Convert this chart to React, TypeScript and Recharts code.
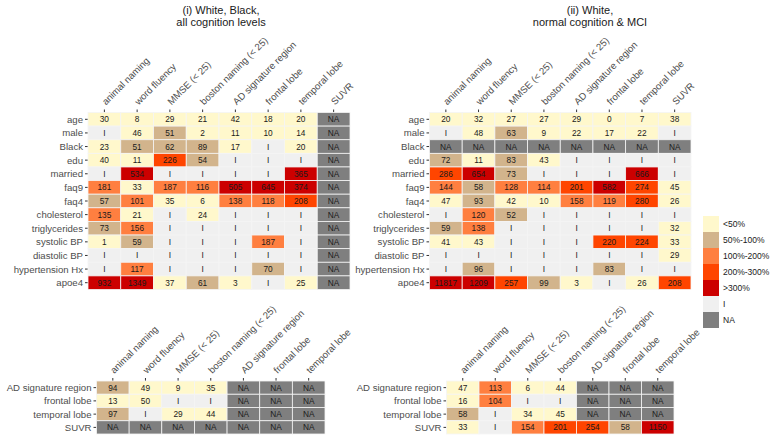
import React from "react";
import {ScatterChart, Scatter, XAxis, YAxis} from "recharts";

const I = "I";
const NA = "NA";
type Val = number | "I" | "NA";

const topCols = ["animal naming", "word fluency", "MMSE (< 25)", "boston naming (< 25)", "AD signature region", "frontal lobe", "temporal lobe", "SUVR"];
const topRows = ["age", "male", "Black", "edu", "married", "faq9", "faq4", "cholesterol", "triglycerides", "systolic BP", "diastolic BP", "hypertension Hx", "apoe4"];
const bottomCols = ["animal naming", "word fluency", "MMSE (< 25)", "boston naming (< 25)", "AD signature region", "frontal lobe", "temporal lobe"];
const bottomRows = ["AD signature region", "frontal lobe", "temporal lobe", "SUVR"];

// (i) White, Black, all cognition levels
const topValuesI: Val[][] = [
  [30, 8, 29, 21, 42, 18, 20, NA],
  [I, 46, 51, 2, 11, 10, 14, NA],
  [23, 51, 62, 89, 17, I, 20, NA],
  [40, 11, 226, 54, I, I, I, NA],
  [I, 534, I, I, I, I, 365, NA],
  [181, 33, 187, 116, 505, 645, 374, NA],
  [57, 101, 35, 6, 138, 118, 208, NA],
  [135, 21, I, 24, I, I, I, NA],
  [73, 156, I, I, I, I, I, NA],
  [1, 59, I, I, I, 187, I, NA],
  [I, I, I, I, I, I, I, NA],
  [I, 117, I, I, I, 70, I, NA],
  [932, 1349, 37, 61, 3, I, 25, NA]
];

// (ii) White, normal cognition & MCI
const topValuesII: Val[][] = [
  [20, 32, 27, 27, 29, 0, 7, 38],
  [I, 48, 63, 9, 22, 17, 22, I],
  [NA, NA, NA, NA, NA, NA, NA, NA],
  [72, 11, 83, 43, I, I, I, I],
  [286, 654, 73, I, I, I, 666, I],
  [144, 58, 128, 114, 201, 582, 274, 45],
  [47, 93, 42, 10, 158, 119, 280, 26],
  [I, 120, 52, I, I, I, I, I],
  [59, 138, I, I, I, I, I, 32],
  [41, 43, I, I, I, 220, 224, 33],
  [I, I, I, I, I, I, I, 29],
  [I, 96, I, I, I, 83, I, I],
  [11817, 1209, 257, 99, 3, I, 26, 208]
];

const bottomValuesI: Val[][] = [
  [94, 49, 9, 35, NA, NA, NA],
  [13, 50, I, I, NA, NA, NA],
  [97, I, 29, 44, NA, NA, NA],
  [NA, NA, NA, NA, NA, NA, NA]
];

const bottomValuesII: Val[][] = [
  [47, 113, 6, 44, NA, NA, NA],
  [16, 104, I, I, NA, NA, NA],
  [58, I, 34, 45, NA, NA, NA],
  [33, I, 154, 201, 254, 58, 1150]
];

const legendLabels = ["<50%", "50%-100%", "100%-200%", "200%-300%", ">300%", "I", "NA"];
const legendColors = ["#FFF8CC", "#D2B48C", "#FF7F40", "#FF4500", "#CC0000", "#F0F0F0", "#7F7F7F"];

const fillFor = (v: Val) => {
  if (v === NA) return legendColors[6];
  if (v === I) return legendColors[5];
  if (v <= 50) return legendColors[0];
  if (v <= 100) return legendColors[1];
  if (v <= 200) return legendColors[2];
  if (v <= 300) return legendColors[3];
  return legendColors[4];
};

const W = 772;
const H = 437;
const LABEL = 9.6;

const Heat = ({rows, cols, values, left, top, width, height} : any) => {
  const data: any[] = [];
  values.forEach((r: Val[], yi: number) => r.forEach((v, xi) => data.push({x: xi, y: yi, v})));
  const cw = width / cols.length;
  const ch = height / rows.length;

  const ColTick = ({x, y, payload} : any) => {
    const ax = x + 1.5;
    const ay = y - 3;
    return (<text x={ax} y={ay} transform={`rotate(-45 ${ax} ${ay})`} textAnchor="start" fontSize={LABEL} fill="#4D4D4D">
      {cols[payload.value]}
    </text>);
  };

  const RowTick = ({x, y, payload} : any) => (
    <text x={x} y={y} textAnchor="end" dominantBaseline="central" fontSize={LABEL} fill="#4D4D4D">
      {rows[payload.value]}
    </text>
  );

  const Cell = (p : any) => (
    <g>
      <rect x={p.cx - cw / 2} y={p.cy - ch / 2} width={cw} height={ch} fill={fillFor(p.payload.v)} stroke="#F4F4F4" strokeWidth={0.8}/>
      <text x={p.cx} y={p.cy} textAnchor="middle" dominantBaseline="central" fontSize={8.3} fill="#1A1A1A">{p.payload.v}</text>
    </g>
  );

  return (<div style={{position: "absolute", left: 0, top: 0}}>
    <ScatterChart width={W} height={H} margin={{top: 0, left: 0, right: W - left - width, bottom: H - top - height}}>
      <XAxis type="number" dataKey="x" orientation="top" domain={[-0.5, cols.length - 0.5]} ticks={cols.map((_: any, i: number) => i)}
        interval={0} height={top} axisLine={false} tickSize={3} tickMargin={1} tickLine={{stroke: "#333"}} tick={<ColTick/>}/>
      <YAxis type="number" dataKey="y" reversed domain={[-0.5, rows.length - 0.5]} ticks={rows.map((_: any, i: number) => i)}
        interval={0} width={left} axisLine={false} tickSize={3} tickMargin={2} tickLine={{stroke: "#333"}} tick={<RowTick/>}/>
      <Scatter data={data} shape={<Cell/>} isAnimationActive={false}/>
    </ScatterChart>
  </div>);
};

export default function App() {
  return (<div style={{position: "fixed", left: 0, top: 0, width: W, height: H, background: "#fff", fontFamily: "'Liberation Sans', Arial, sans-serif"}}>
    <Heat rows={topRows} cols={topCols} values={topValuesI} left={88} top={112.5} width={262} height={177}/>
    <Heat rows={topRows} cols={topCols} values={topValuesII} left={429.5} top={112.5} width={261.5} height={177}/>
    <Heat rows={bottomRows} cols={bottomCols} values={bottomValuesI} left={96.5} top={381} width={228.5} height={53}/>
    <Heat rows={bottomRows} cols={bottomCols} values={bottomValuesII} left={446.5} top={381} width={227.5} height={53}/>
    <svg width={W} height={H} style={{position: "absolute", left: 0, top: 0, pointerEvents: "none"}}>
      <text x={221} y={14} textAnchor="middle" fontSize={11} fill="#1A1A1A">(i) White, Black,</text>
      <text x={221} y={26} textAnchor="middle" fontSize={11} fill="#1A1A1A">all cognition levels</text>
      <text x={590} y={14} textAnchor="middle" fontSize={11} fill="#1A1A1A">(ii) White,</text>
      <text x={590} y={26} textAnchor="middle" fontSize={11} fill="#1A1A1A">normal cognition &amp; MCI</text>
      {legendLabels.map((l, i) => (
        <g key={l}>
          <rect x={703} y={216 + i * 16} width={16} height={16} fill={legendColors[i]}/>
          <text x={723} y={224 + i * 16} dominantBaseline="central" fontSize={8.5} fill="#1A1A1A">{l}</text>
        </g>
      ))}
    </svg>
  </div>);
}
